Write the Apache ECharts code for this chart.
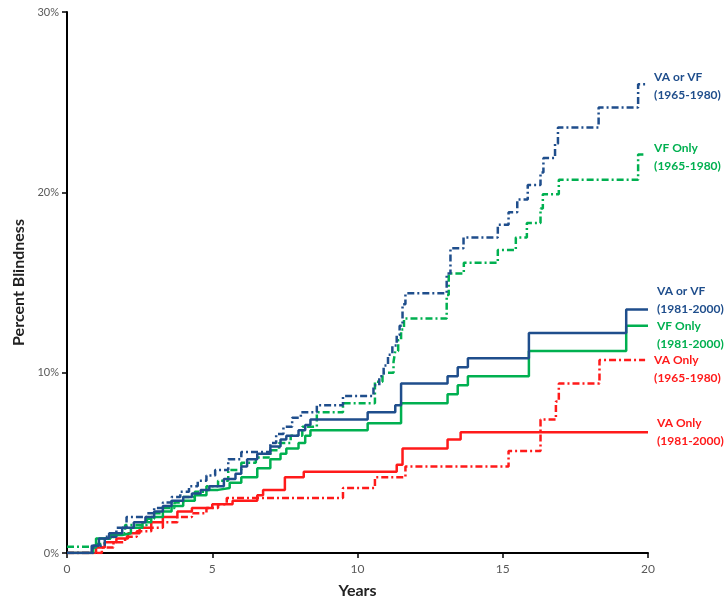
<!DOCTYPE html>
<html><head><meta charset="utf-8">
<script src="https://cdn.jsdelivr.net/npm/echarts/dist/echarts.min.js"></script>
<style>html,body{margin:0;padding:0;background:#fff}#c{width:724px;height:607px}</style>
</head><body><div id="c"></div>
<script>
// Years (x) and percent blindness (y) for each Kaplan-Meier step curve
const b65T = [0,0.9,1.3,1.7,2.05,2.75,3.0,3.3,3.6,3.9,4.2,4.5,4.8,5.1,5.55,6.0,7.0,7.2,7.45,7.75,8.05,8.6,9.5,10.55,10.75,10.9,11.05,11.2,11.35,11.45,11.55,11.65,13.07,13.2,13.65,14.83,15.2,15.5,15.86,16.3,16.4,16.8,16.9,18.3,19.66,19.9];
const b65V = [0,0.4,0.9,1.4,2.0,2.2,2.5,2.8,3.1,3.4,3.7,4.0,4.3,4.6,5.2,5.6,6.1,6.6,7.0,7.5,7.8,8.2,8.7,9.3,9.8,10.4,11.0,11.5,12.1,12.6,13.8,14.4,15.5,16.9,17.5,18.2,18.9,19.6,20.4,21.1,21.9,22.7,23.6,24.7,26.0,26.0];

const g65T = [0,1.0,1.3,1.6,2.0,2.75,3.0,3.3,3.7,4.0,4.4,4.8,5.2,5.55,6.0,6.5,7.0,7.3,7.7,8.1,8.6,9.5,10.6,10.86,11.24,11.3,11.4,11.5,11.6,13.07,13.14,13.66,14.83,15.45,15.83,16.3,16.38,16.93,19.66,19.9];
const g65V = [0.35,0.5,0.8,1.1,1.55,1.9,2.2,2.5,2.8,3.1,3.4,3.7,4.0,4.6,5.0,5.3,5.7,6.1,6.5,7.0,7.8,8.3,9.5,10.0,10.6,11.2,11.8,12.4,13.0,14.3,15.5,16.1,16.8,17.5,18.3,19.1,19.9,20.7,22.1,22.1];

const b81T = [0,0.85,1.1,1.45,1.9,2.3,2.7,3.0,3.3,3.6,4.0,4.3,4.6,4.9,5.4,5.8,6.0,6.2,6.55,7.0,7.35,7.55,7.97,8.2,8.38,10.35,11.3,11.5,13.1,13.45,13.8,15.9,19.25,20];
const b81V = [0,0.4,0.8,1.1,1.4,1.7,2.0,2.3,2.6,2.9,3.1,3.3,3.5,3.7,4.1,4.4,4.8,5.2,5.5,5.9,6.3,6.5,6.8,7.1,7.4,7.8,8.2,9.4,9.8,10.3,10.8,12.2,13.5,13.5];

const g81T = [0,0.9,1.0,1.5,1.9,2.2,2.6,2.9,3.3,3.6,4.0,4.4,4.8,5.2,5.6,6.0,6.55,7.0,7.35,7.55,7.97,8.2,8.38,10.35,11.5,13.1,13.45,13.8,15.9,19.25,20];
const g81V = [0,0.3,0.8,1.0,1.1,1.4,1.7,2.0,2.3,2.6,2.9,3.2,3.5,3.6,3.9,4.2,4.7,5.2,5.5,5.8,6.1,6.5,6.8,7.2,8.3,8.8,9.3,9.8,11.2,12.6,12.6];

const r65T = [0,1.2,1.6,2.0,2.4,2.9,3.3,3.8,4.3,4.8,5.2,5.5,9.5,10.6,11.65,15.2,16.3,16.83,16.93,18.33,19.9];
const r65V = [0,0.3,0.6,0.9,1.2,1.4,1.7,2.0,2.2,2.5,2.7,3.05,3.6,4.2,4.8,5.65,7.4,8.4,9.4,10.7,10.7];

const r81T = [0,1.0,1.3,1.7,2.1,2.5,2.9,3.3,3.8,4.3,5.0,5.7,6.55,6.75,7.5,8.15,11.35,11.55,13.1,13.55,20];
const r81V = [0,0.3,0.6,0.8,1.1,1.4,1.7,2.0,2.3,2.5,2.7,2.9,3.2,3.5,4.2,4.5,4.9,5.8,6.3,6.7,6.7];

const xTicks = {min:0, max:20, step:5};
const yTicks = {min:0, max:30, step:10};

const BLUE = '#1F4E8C', GREEN = '#00B050', RED = '#FF1A1A';
const DASH = [7,3,2,3];
const FONT = 'Lato, "Open Sans", sans-serif';

function mk(name, T, V, color, dashed, label, offY, z) {
  return {
    name, type:'line', step:'end', symbol:'none', z: z,
    data: T.map((t,i)=>[t, V[i]]),
    lineStyle:{color, width:2.5, type: dashed ? DASH : 'solid', cap:'butt'},
    endLabel:{show:true, formatter: label, color, fontWeight:'bold', fontSize:12,
      fontFamily:FONT, lineHeight:18, distance:9, offset:[0, offY], align:'left'}
  };
}

const chart = echarts.init(document.getElementById('c'), null, {renderer:'canvas'});
chart.setOption({
  animation:false,
  backgroundColor:'#fff',
  grid:{left:67, right:76, top:12, bottom:54, containLabel:false},
  xAxis:{type:'value', min:xTicks.min, max:xTicks.max, interval:xTicks.step,
    name:'Years', nameLocation:'middle', nameGap:30,
    nameTextStyle:{fontSize:16, fontWeight:'bold', color:'#222', fontFamily:FONT},
    axisLine:{show:true, onZero:false, lineStyle:{color:'#000', width:2}},
    axisTick:{show:true, length:5, lineStyle:{color:'#000', width:1.5}},
    axisLabel:{color:'#595959', fontSize:12, margin:10, fontFamily:FONT},
    splitLine:{show:false}},
  yAxis:{type:'value', min:yTicks.min, max:yTicks.max, interval:yTicks.step,
    name:'Percent Blindness', nameLocation:'middle', nameGap:36, nameRotate:90,
    nameTextStyle:{fontSize:16, fontWeight:'bold', color:'#222', fontFamily:FONT},
    axisLine:{show:true, lineStyle:{color:'#000', width:2}},
    axisTick:{show:true, length:5, lineStyle:{color:'#000', width:1.5}},
    axisLabel:{color:'#595959', fontSize:11, margin:8, formatter:'{value}%', fontFamily:FONT},
    splitLine:{show:false}},
  series:[
    mk('VA Only (1981-2000)', r81T, r81V, RED, false, 'VA Only\n(1981-2000)', 0, 2),
    mk('VA Only (1965-1980)', r65T, r65V, RED, true, 'VA Only\n(1965-1980)', 9, 2),
    mk('VF Only (1981-2000)', g81T, g81V, GREEN, false, 'VF Only\n(1981-2000)', 9, 3),
    mk('VF Only (1965-1980)', g65T, g65V, GREEN, true, 'VF Only\n(1965-1980)', 3, 3),
    mk('VA or VF (1981-2000)', b81T, b81V, BLUE, false, 'VA or VF\n(1981-2000)', -9, 4),
    mk('VA or VF (1965-1980)', b65T, b65V, BLUE, true, 'VA or VF\n(1965-1980)', 2, 4)
  ]
});
</script></body></html>
